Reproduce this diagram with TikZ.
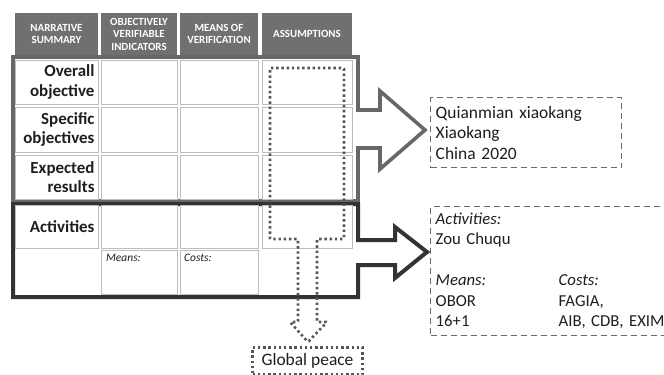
\documentclass[tikz,border=0pt]{standalone}
\usepackage{fontspec}
\setmainfont{Carlito}
\definecolor{hdrgray}{HTML}{6F7072}
\definecolor{cellline}{HTML}{BDBDBD}
\definecolor{framegray}{HTML}{676767}
\definecolor{framedark}{HTML}{333333}
\definecolor{dotgray}{HTML}{555555}
\definecolor{dashgray}{HTML}{6A6A6A}
\definecolor{txt}{HTML}{1E1E1E}
\begin{document}
\begin{tikzpicture}[x=1bp,y=-1bp,
  hdrcell/.style={fill=hdrgray, text=white, inner sep=0pt, align=center,
    font=\bfseries\fontsize{11}{12.5}\selectfont},
  cellbox/.style={draw=cellline, line width=0.9bp, fill=white, inner sep=0pt},
  lblcell/.style={cellbox, align=right, text width=76bp, inner xsep=3.5bp,
    font=\bfseries\fontsize{17}{19.5}\selectfont, text=txt},
  smalltxt/.style={anchor=north west, inner sep=0pt, font=\itshape\fontsize{11.5}{13}\selectfont, text=txt},
  upframe/.style={draw=framegray, line width=3.6bp, line join=miter},
  lowframe/.style={draw=framedark, line width=4bp, line join=miter},
  dotline/.style={draw=dotgray, line width=2.6bp, dash pattern=on 2.4bp off 2.8bp},
  dashbox/.style={draw=dashgray, line width=1.4bp, dash pattern=on 6bp off 4bp,
    inner sep=0pt, font=\fontsize{17.5}{20.6}\selectfont, text=txt}
]
\useasboundingbox (0,0) rectangle (664,374);
\fill[white] (0,0) rectangle (664,374);

% header
\node[hdrcell, minimum width=83bp, minimum height=42bp] (h1) at (56.5,34) {NARRATIVE\\SUMMARY};
\node[hdrcell, minimum width=76bp, minimum height=42bp] (h2) at (139,34) {OBJECTIVELY\\VERIFIABLE\\INDICATORS};
\node[hdrcell, minimum width=78bp, minimum height=42bp] (h3) at (219,34) {MEANS OF\\VERIFICATION};
\node[hdrcell, minimum width=90bp, minimum height=42bp] (h4) at (307,34) {ASSUMPTIONS};

% frames
\draw[upframe] (13,57) -- (358,57) -- (358,110) -- (380,110) -- (380,91) -- (425,130)
  -- (380,169) -- (380,148) -- (358,148) -- (358,201) -- (13,201) -- cycle;
\draw[lowframe] (13,204) -- (358,204) -- (358,240) -- (395,240) -- (395,227) -- (427,252)
  -- (395,278) -- (395,265) -- (358,265) -- (358,297) -- (13,297) -- cycle;

% row 1
\node[lblcell, minimum height=44bp] (a1) at (56.5,82) {Overall\\objective};
\node[cellbox, minimum width=76bp, minimum height=44bp] (b1) at (139,82) {};
\node[cellbox, minimum width=78bp, minimum height=44bp] (c1) at (219,82) {};
\node[cellbox, minimum width=90bp, minimum height=44bp] (d1) at (307,82) {};
% row 2
\node[lblcell, minimum height=45bp] (a2) at (56.5,129.5) {Specific\\objectives};
\node[cellbox, minimum width=76bp, minimum height=45bp] (b2) at (139,129.5) {};
\node[cellbox, minimum width=78bp, minimum height=45bp] (c2) at (219,129.5) {};
\node[cellbox, minimum width=90bp, minimum height=45bp] (d2) at (307,129.5) {};
% row 3
\node[lblcell, minimum height=44bp] (a3) at (56.5,177) {Expected\\results};
\node[cellbox, minimum width=76bp, minimum height=44bp] (b3) at (139,177) {};
\node[cellbox, minimum width=78bp, minimum height=44bp] (c3) at (219,177) {};
\node[cellbox, minimum width=90bp, minimum height=44bp] (d3) at (307,177) {};
% row 4
\node[lblcell, minimum height=43bp] (a4) at (56.5,226.5) {Activities};
\node[cellbox, minimum width=76bp, minimum height=43bp] (b4) at (139,226.5) {};
\node[cellbox, minimum width=78bp, minimum height=43bp] (c4) at (219,226.5) {};
\node[cellbox, minimum width=90bp, minimum height=43bp] (d4) at (307,226.5) {};
% row 5
\node[cellbox, minimum width=76bp, minimum height=44bp] (b5) at (139,272) {};
\node[smalltxt] (b5t) at (106,254) {Means:};
\node[cellbox, minimum width=78bp, minimum height=44bp] (c5) at (219,272) {};
\node[smalltxt] (c5t) at (184,254) {Costs:};

% dotted assumptions arrow
\draw[dotline, rounded corners=1bp] (270,68) -- (344,68) -- (344,239) -- (317,239) -- (317,322)
  -- (327,322) -- (308,342) -- (290,322) -- (298,322) -- (298,239) -- (270,239) -- cycle;

\node[dashbox, dotline, minimum width=110bp, minimum height=27bp,
  font=\fontsize{17.5}{20}\selectfont] (gp) at (307.5,361) {Global peace};

% right boxes
\node[dashbox, anchor=north west, text width=181bp, inner xsep=5bp, minimum height=70bp, align=left]
  (ubox) at (430,97) {Quianmian xiaokang\\Xiaokang\\China 2020};
\node[dashbox, anchor=north west, text width=245bp, inner xsep=5bp, minimum height=129bp, align=left,
  font=\fontsize{16.8}{20.6}\selectfont]
  (lbox) at (430,206) {%
  \begin{tabular}{@{}p{123bp}@{}l@{}}
  \textit{Activities:} & \\
  Zou Chuqu & \\
  & \\
  \textit{Means:} & \textit{Costs:}\\
  OBOR & FAGIA,\\
  16+1 & AIB, CDB, EXIM
  \end{tabular}};
\end{tikzpicture}
\end{document}
